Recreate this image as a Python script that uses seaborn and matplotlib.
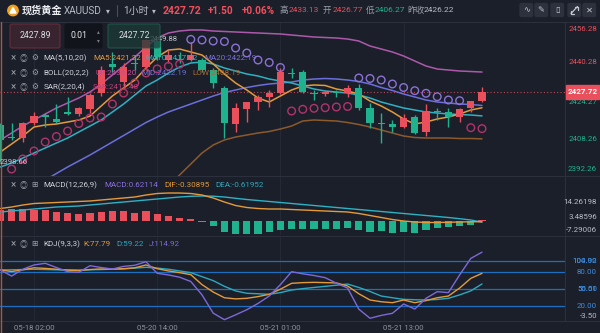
import numpy as np
import pandas as pd
import matplotlib
matplotlib.use('Agg')
import matplotlib.pyplot as plt
import seaborn as sns
from matplotlib.patches import Rectangle, Circle, FancyBboxPatch

# ---------------- data ----------------
time_labels = ['05-18 02:00', '05-20 14:00', '05-21 01:00', '05-21 13:00']
time_label_idx = [3, 14, 25, 36]

opens = [2414.0, 2409.1, 2408.4, 2414.8, 2418.2, 2416.7, 2419.5, 2418.5, 2420.7, 2427.4,
         2439.6, 2432.0, 2439.8, 2438.3, 2449.2, 2441.2, 2441.6, 2441.2, 2441.2, 2437.05,
         2429.4, 2414.3, 2420.7, 2423.5, 2425.6, 2427.3, 2436.0, 2436.2, 2427.5, 2426.9,
         2428.0, 2427.3, 2429.4, 2421.0, 2414.8, 2414.4, 2413.2, 2417.2, 2411.2, 2419.9,
         2419.6, 2417.5, 2421.0, 2424.1]
highs = [2414.8, 2414.8, 2415.4, 2419.5, 2419.0, 2422.8, 2425.7, 2421.5, 2427.4, 2438.7,
         2444.6, 2440.0, 2443.3, 2449.88, 2449.7, 2445.4, 2444.7, 2448.9, 2442.1, 2437.9,
         2430.3, 2423.1, 2423.6, 2426.6, 2428.7, 2437.8, 2437.9, 2437.05, 2428.7, 2428.7,
         2428.7, 2430.8, 2431.1, 2423.1, 2418.9, 2416.1, 2418.5, 2418.2, 2422.7, 2421.0,
         2421.0, 2421.0, 2424.1, 2430.0]
lows = [2398.66, 2407.7, 2406.7, 2414.0, 2413.2, 2414.7, 2418.2, 2417.8, 2419.2, 2426.2,
        2436.2, 2429.5, 2437.1, 2437.05, 2441.2, 2440.0, 2440.0, 2440.8, 2436.2, 2429.5,
        2408.4, 2411.0, 2415.4, 2420.3, 2421.7, 2427.2, 2433.7, 2427.4, 2424.5, 2426.2,
        2425.9, 2425.9, 2420.3, 2412.6, 2406.27, 2411.2, 2412.6, 2410.1, 2409.5, 2416.1,
        2413.3, 2415.4, 2419.3, 2423.5]
closes = [2407.7, 2408.6, 2414.7, 2417.6, 2417.4, 2415.1, 2418.6, 2421.0, 2426.6, 2437.05,
          2438.3, 2438.3, 2439.4, 2449.6, 2442.5, 2443.3, 2441.2, 2443.3, 2437.05, 2431.5,
          2414.7, 2421.0, 2423.5, 2425.6, 2427.3, 2436.3, 2435.5, 2428.0, 2427.1, 2428.0,
          2427.3, 2429.6, 2421.3, 2414.7, 2414.4, 2413.3, 2417.1, 2410.8, 2419.9, 2419.5,
          2417.5, 2420.7, 2424.1, 2427.72]

ma5 = [2402.69, 2406.04, 2409.39, 2413.16, 2414.00, 2414.42, 2415.26, 2416.10, 2417.77, 2421.97,
       2426.16, 2429.51, 2432.86, 2437.89, 2442.50, 2445.43, 2445.85, 2444.60, 2443.34, 2439.57,
       2435.38, 2431.60, 2428.67, 2425.32, 2423.64, 2426.16, 2428.67, 2430.35, 2430.77, 2430.56,
       2429.09, 2428.25, 2426.99, 2424.06, 2421.97, 2419.45, 2416.52, 2414.42, 2415.26, 2416.52,
       2417.36, 2418.61, 2420.29, 2421.22]
ma10 = [2396.40, 2398.08, 2400.17, 2402.27, 2404.36, 2406.46, 2408.55, 2411.07, 2413.58, 2416.10,
        2419.45, 2422.80, 2426.58, 2430.35, 2432.86, 2435.80, 2438.31, 2439.99, 2440.41, 2439.57,
        2437.89, 2436.63, 2435.38, 2434.54, 2433.28, 2432.44, 2431.60, 2430.35, 2429.09, 2428.25,
        2427.83, 2427.41, 2426.58, 2425.32, 2423.64, 2422.38, 2421.13, 2420.29, 2419.45, 2419.03,
        2418.61, 2418.40, 2418.19, 2417.82]
boll_mid = [np.nan, np.nan, np.nan, np.nan, 2390.95, 2393.68, 2396.40, 2398.91, 2401.43, 2404.15,
            2406.88, 2409.60, 2412.33, 2415.05, 2417.36, 2419.45, 2421.13, 2422.80, 2424.48, 2426.16,
            2427.62, 2428.67, 2429.72, 2430.56, 2431.19, 2431.60, 2432.02, 2432.86, 2433.28, 2433.49,
            2433.28, 2432.86, 2432.23, 2431.19, 2429.72, 2428.46, 2426.99, 2425.74, 2424.48, 2423.64,
            2423.22, 2422.80, 2422.59, 2422.19]
boll_up = [2407.72, 2410.65, 2413.58, 2416.10, 2418.61, 2421.13, 2423.22, 2425.32, 2427.83, 2431.19,
           2434.96, 2438.73, 2442.50, 2446.69, 2450.46, 2452.56, 2453.40, 2453.82, 2453.82, 2453.40,
           2453.19, 2452.98, 2452.77, 2452.56, 2452.35, 2452.14, 2451.72, 2451.30, 2450.88, 2450.67,
           2450.46, 2450.04, 2449.21, 2447.11, 2445.85, 2444.60, 2442.92, 2440.82, 2438.73, 2437.47,
           2437.05, 2436.63, 2436.42, 2436.20]
boll_low = [np.nan] * 15 + [2388.44, 2393.05, 2397.66, 2402.27, 2405.62, 2407.72, 2408.97, 2409.81, 2410.65,
                            2411.28, 2412.33, 2413.58, 2415.68, 2416.10, 2415.89, 2415.68, 2415.05, 2414.21,
                            2413.16, 2411.91, 2410.65, 2409.39, 2408.76, 2408.55, 2408.55, 2408.55, 2408.34,
                            2408.34, 2408.19]
sar = [np.nan, 2395.56, 2399.75, 2403.11, 2406.88, 2409.18, 2411.49, 2414.63, 2416.94, 2417.36,
       2422.80, 2427.41, 2431.60, 2435.80, 2437.50, 2438.60, 2439.50, 2449.88, 2449.63, 2449.21,
       2449.00, 2446.27, 2444.18, 2441.24, 2440.20, 2438.10, 2419.87, 2420.58, 2421.00, 2421.25,
       2421.55, 2421.76, 2433.70, 2433.49, 2432.86, 2431.19, 2429.72, 2428.38, 2427.29, 2425.86,
       2424.48, 2424.19, 2412.87, 2412.48]

macd_hist = [8.1, 8.9, 8.9, 8.7, 8.1, 6.9, 6.4, 5.7, 6.4, 6.9, 7.4, 7.4, 6.4, 7.6, 5.7, 3.9, 2.4, 1.5,
             -0.3, -3.5, -7.9, -9.1, -9.6, -9.1, -7.9, -6.2, -5.4, -5.4, -5.4, -5.4, -5.4, -4.9,
             -6.2, -7.9, -7.2, -8.6, -7.9, -8.6, -6.2, -4.7, -4.2, -3.7, -2.5, 0.62]
dif = [9.48, 10.59, 12.07, 13.19, 13.56, 13.93, 14.30, 14.67, 15.04, 15.78, 16.52, 17.26, 18.00,
       19.48, 20.59, 20.96, 20.96, 20.59, 19.48, 17.26, 14.30, 11.70, 10.22, 9.48, 9.11, 9.11,
       8.74, 8.37, 8.00, 7.63, 7.26, 6.89, 5.78, 4.30, 2.81, 1.33, 0.22, -0.52, -0.89, -0.89,
       -0.74, -0.52, -0.37, -0.31]
dea = [6.89, 7.63, 8.37, 9.11, 9.85, 10.59, 10.96, 11.33, 12.07, 12.81, 13.56, 14.30, 15.04,
       15.78, 16.52, 17.26, 18.00, 18.52, 18.74, 18.59, 18.00, 17.04, 16.15, 15.41, 14.67, 13.93,
       13.19, 12.44, 11.70, 10.96, 10.22, 9.48, 8.74, 8.00, 7.26, 6.52, 5.78, 5.04, 4.30, 3.56,
       2.81, 1.93, 0.96, -0.62]

k_vals = [83.7, 81, 84, 87.5, 86.5, 85, 83.5, 82.5, 84.5, 85.5, 85.4, 86, 87.5, 92.5, 86, 82, 79,
          75.5, 58, 45, 35, 33, 34, 37, 41, 50, 60.3, 61.5, 62, 61.5, 61, 55.6, 42, 31, 28, 26.3,
          31, 26.3, 30, 35, 38, 52, 69, 77.79]
d_vals = [83.7, 84, 84.5, 84.9, 84.5, 84, 83.7, 83.7, 84, 84.5, 85, 85.5, 87, 88.4, 87, 85, 82, 79,
          72, 65, 55, 47, 42.8, 42, 41, 44, 48.6, 51, 53, 55, 57, 59, 53, 46, 38, 35, 32.2, 31.5,
          31, 32, 34, 40, 47, 59.22]
j_vals = [83.7, 73, 85, 92.5, 95.4, 88, 80.7, 79.6, 91.2, 88, 85.4, 90, 92, 98.2, 77.9, 75, 71,
          63.5, 40, 8, -3.5, 5, 14, 25, 38, 58, 80.7, 77, 74, 70.2, 60.5, 52, 15, -1, 4, 7.7, 24,
          15.2, 34, 45.6, 44, 75, 104, 114.92]
kdj_levels = [100, 80, 50, 20]

price_ticks = [('2456.28', 29.0, 'r'), ('2440.28', 62.3, 'r'), ('2424.27', 101.5, 'g'),
               ('2408.26', 138.7, 'g'), ('2392.26', 168.7, 'g')]
macd_ticks = [('14.26198', 201.7), ('3.48596', 216.7), ('-7.29006', 229.5)]
kdj_ticks = [('104.92', 260.7), ('100.00', 260.7), ('80.00', 272.1), ('55.51', 289.2),
             ('50.00', 289.2), ('20.00', 306.3)]

# ---------------- style ----------------
BG = '#1b1f2a'
RED = '#e9505b'
GREEN = '#1fb28e'
TXT = '#cfd2d9'
GREY = '#8d929c'
MA5_C = '#e39a3b'
MA10_C = '#2fb1c4'
MID_C = '#6b6fdc'
UP_C = '#ad59ab'
LOW_C = '#8c5a2c'
SAR_DN = '#b3336c'
SAR_UP = '#8b72d6'
PURP = '#7d69d9'
BLUE = '#1f6fc0'

sns.set_theme(style='dark', rc={'axes.facecolor': BG, 'figure.facecolor': BG})
plt.rcParams['font.family'] = ['Roboto', 'Noto Sans CJK SC', 'DejaVu Sans']

W, H = 600, 333
fig = plt.figure(figsize=(6, 3.33), dpi=100)
fig.patch.set_facecolor(BG)
XL = (-0.036, 50.41)
idx = np.arange(len(closes))
df = pd.DataFrame({'idx': idx, 'open': opens, 'high': highs, 'low': lows, 'close': closes,
                   'ma5': ma5, 'ma10': ma10, 'mid': boll_mid, 'up': boll_up, 'lowb': boll_low,
                   'sar': sar, 'hist': macd_hist, 'dif': dif, 'dea': dea,
                   'k': k_vals, 'd': d_vals, 'j': j_vals})


def panel(top, bottom):
    ax = fig.add_axes([0, 1 - bottom / H, 565 / W, (bottom - top) / H])
    ax.set_facecolor('none')
    for i in time_label_idx:
        ax.axvline(i, color='#242935', lw=0.8, zorder=0)
    return ax


def finish(ax, ylim):
    ax.set_xlim(*XL)
    ax.set_ylim(*ylim)
    ax.set_xticks([])
    ax.set_yticks([])
    ax.set_xlabel('')
    ax.set_ylabel('')
    ax.grid(False)
    for s in ax.spines.values():
        s.set_visible(False)


def line(ax, col, color, lw=1.1):
    sns.lineplot(data=df, x='idx', y=col, ax=ax, color=color, linewidth=lw,
                 estimator=None, sort=False, legend=False)


# ---- main price panel ----
ax = panel(22, 176)
ax.axhline(closes[-1], color=RED, lw=0.8, ls=(0, (1, 2)), alpha=0.8, zorder=1)
line(ax, 'up', UP_C)
line(ax, 'lowb', LOW_C)
line(ax, 'mid', MID_C)
line(ax, 'ma10', MA10_C)
line(ax, 'ma5', MA5_C)
o = df['open'].to_numpy(); c = df['close'].to_numpy()
cols = np.where(c >= o, RED, GREEN)
ax.vlines(idx, df['low'], df['high'], colors=cols, linewidth=1.0, zorder=3)
ax.bar(idx, np.maximum(np.abs(c - o), 0.45), bottom=np.minimum(o, c), width=0.64,
       color=cols, linewidth=0, zorder=4)
sar_arr = df['sar'].to_numpy()
above = sar_arr > c
below = (sar_arr <= c) & ~np.isnan(sar_arr)
sns.scatterplot(x=idx[below], y=sar_arr[below], ax=ax, marker='o', s=30,
                facecolors='none', edgecolor=SAR_DN, linewidth=1.0, zorder=5)
sns.scatterplot(x=idx[above], y=sar_arr[above], ax=ax, marker='o', s=30,
                facecolors='none', edgecolor=SAR_UP, linewidth=1.0, zorder=5)
finish(ax, (2392.63, 2457.17))

# ---- MACD panel ----
axm = panel(176, 235)
axm.bar(idx, df['hist'], width=0.64, color=np.where(df['hist'] >= 0, RED, GREEN), linewidth=0, zorder=2)
line(axm, 'dea', MA10_C, 1.0)
line(axm, 'dif', MA5_C, 1.0)
finish(axm, (-10.15, 33.56))

# ---- KDJ panel ----
axk = panel(236, 321)
for lv in kdj_levels:
    axk.axhline(lv, color=BLUE, lw=0.9, zorder=1)
line(axk, 'd', '#2aa9bf', 1.0)
line(axk, 'k', MA5_C, 1.0)
line(axk, 'j', PURP, 1.0)
finish(axk, (-5.8, 143.3))

# ---------------- overlay (pixel coords) ----------------
ov = fig.add_axes([0, 0, 1, 1], zorder=5)
ov.set_xlim(0, W)
ov.set_ylim(H, 0)
ov.axis('off')
ov.patch.set_alpha(0)


def T(x, y, s, color=TXT, size=5.8, ha='left', va='center', weight='normal', z=6):
    ov.text(x, y, s, color=color, fontsize=size, ha=ha, va=va, fontweight=weight, zorder=z)


# separators
SEP = '#2b303c'
for yy in (22, 175.5, 235.5, 320.5):
    ov.plot([0, 600], [yy, yy], color=SEP, lw=0.8, zorder=2)
ov.plot([565, 565], [22, 320.5], color=SEP, lw=0.8, zorder=2)
ov.plot([0.5, 0.5], [22, 333], color='#b4543c', lw=1.0, zorder=2)

# header
ov.add_patch(Circle((13, 10.5), 5.2, color='#f0a01e', zorder=6))
ov.add_patch(plt.Polygon([[10, 13], [13, 7.5], [16, 13]], closed=True, color='white', zorder=7))
T(21.5, 10.5, '现货黄金', '#eceef2', 7.3, weight='bold')
T(63.5, 10.5, 'XAUUSD', '#b7bbc4', 7.2)
T(106, 10.8, '▾', '#b7bbc4', 5.5)
ov.plot([116.5, 116.5], [5, 16], color='#4a4f5b', lw=0.8, zorder=6)
T(123, 10.5, '1小时', '#b7bbc4', 7.2)
T(152, 10.8, '▾', '#b7bbc4', 5.5)
T(163, 10.5, '2427.72', '#f0505c', 7.6, weight='bold')
T(208, 10.5, '+1.50', '#f0505c', 7.2, weight='bold')
T(242, 10.5, '+0.06%', '#f0505c', 7.2, weight='bold')
T(280, 10.5, '高', '#9a9ea8', 6.2)
T(288.5, 10.5, '2433.13', '#e9505b', 6.0)
T(323, 10.5, '开', '#9a9ea8', 6.2)
T(333, 10.5, '2426.77', '#e9505b', 6.0)
T(366, 10.5, '低', '#9a9ea8', 6.2)
T(375, 10.5, '2406.27', GREEN, 6.0)
T(407, 10.5, '昨收', '#9a9ea8', 6.2)
T(424, 10.5, '2426.22', '#b7bbc4', 6.0)
for xx, g in zip((520, 535, 551, 568, 583), ('∿', '✎', '▯', '', '✕')):
    ov.add_patch(FancyBboxPatch((xx, 3.5), 12.5, 13, boxstyle='round,pad=0,rounding_size=1.5',
                                color='#2c313d', zorder=6))
    if g:
        T(xx + 6.25, 10.2, g, '#c3c7cf', 6.0, ha='center', z=7)
# expand icon (two diagonal arrows) drawn as a shape
ov.plot([571, 577.5], [13.5, 6.5], color='#c3c7cf', lw=0.9, zorder=7)
ov.plot([574.5, 577.5, 577.5], [6.5, 6.5, 9.5], color='#c3c7cf', lw=0.9, zorder=7)
ov.plot([571, 571, 574], [10.5, 13.5, 13.5], color='#c3c7cf', lw=0.9, zorder=7)

# max / min labels
T(150, 39, '2449.88', '#c3c7cf', 5.6, z=5)
T(-0.5, 161.5, '2398.66', '#c3c7cf', 5.6, z=5)

# order boxes
ov.add_patch(FancyBboxPatch((10, 24), 50, 24, boxstyle='round,pad=0,rounding_size=2',
                            facecolor='#3a2530', edgecolor='#6b2d3a', lw=0.8, alpha=0.92, zorder=6))
T(35, 36, '2427.89', '#dadde3', 6.3, ha='center', z=7)
ov.add_patch(FancyBboxPatch((65, 24), 37, 24, boxstyle='round,pad=0,rounding_size=2',
                            facecolor='#11141b', edgecolor='#11141b', lw=0.8, zorder=6))
T(79, 36, '0.01', '#e6e8ec', 6.3, ha='center', z=7)
T(98, 31.5, '▴', '#7b808a', 4.0, ha='center', z=7)
T(98, 40.5, '▾', '#7b808a', 4.0, ha='center', z=7)
ov.add_patch(FancyBboxPatch((108, 24), 52, 24, boxstyle='round,pad=0,rounding_size=2',
                            facecolor='#1b3a36', edgecolor='#1f6452', lw=0.8, alpha=0.75, zorder=6))
T(134, 36, '2427.72', '#dadde3', 6.3, ha='center', z=7)


# indicator legends
def legend_row(y, icons, items):
    T(12.8, y, '×', '#9aa0aa', 7.0, ha='center')
    T(24, y, '◎', '#9aa0aa', 5.6, ha='center')
    T(34.5, y, icons, '#9aa0aa', 5.6, ha='center')
    for x, s, col in items:
        T(x, y, s, col, 5.8)


legend_row(58.3, '⚙', [(43.5, 'MA(5,10,20)', TXT), (93, 'MA5:2421.22', MA5_C),
                        (145, 'MA10:2417.82', MA10_C), (204, 'MA20:2422.19', '#7c70dc')])
legend_row(72.7, '⚙', [(43.5, 'BOLL(20,2,2)', TXT), (95, 'UP:2436.20', '#c24f9a'),
                        (141.5, 'MID:2422.19', '#6b70d8'), (192, 'LOW:2408.19', '#a86a34')])
legend_row(86.7, '⚙', [(43.5, 'SAR(2,20,4)', TXT), (93, 'SAR:2412.48', '#c0407a')])
legend_row(185, '⊞', [(43.5, 'MACD(12,26,9)', TXT), (104, 'MACD:0.62114', '#8a6fe0'),
                       (164, 'DIF:-0.30895', MA5_C), (215, 'DEA:-0.61952', '#2aa9bf')])
legend_row(244.5, '⊞', [(43.5, 'KDJ(9,3,3)', TXT), (83.5, 'K:77.79', MA5_C),
                         (116, 'D:59.22', '#2aa9bf'), (149, 'J:114.92', PURP)])

# right axis labels
for s, y, kind in price_ticks:
    T(597, y, s, RED if kind == 'r' else GREEN, 5.7, ha='right')
ov.add_patch(Rectangle((566, 84.5), 33, 14, color=RED, zorder=6))
T(582.5, 91.5, '2427.72', 'white', 5.8, ha='center', weight='bold', z=7)
for s, y in macd_ticks:
    T(597, y, s, '#b8bcc6', 5.7, ha='right')
for s, y in kdj_ticks:
    T(597, y, s, '#3b8de0', 5.7, ha='right')
T(597, 316, '-3.50', '#b8bcc6', 5.7, ha='right')

# time axis labels
for i, s in zip(time_label_idx, time_labels):
    xpx = (i - XL[0]) / (XL[1] - XL[0]) * 565
    T(xpx, 327.5, s, GREY, 5.6, ha='center')

fig.savefig('out.png', dpi=100, facecolor=BG)
